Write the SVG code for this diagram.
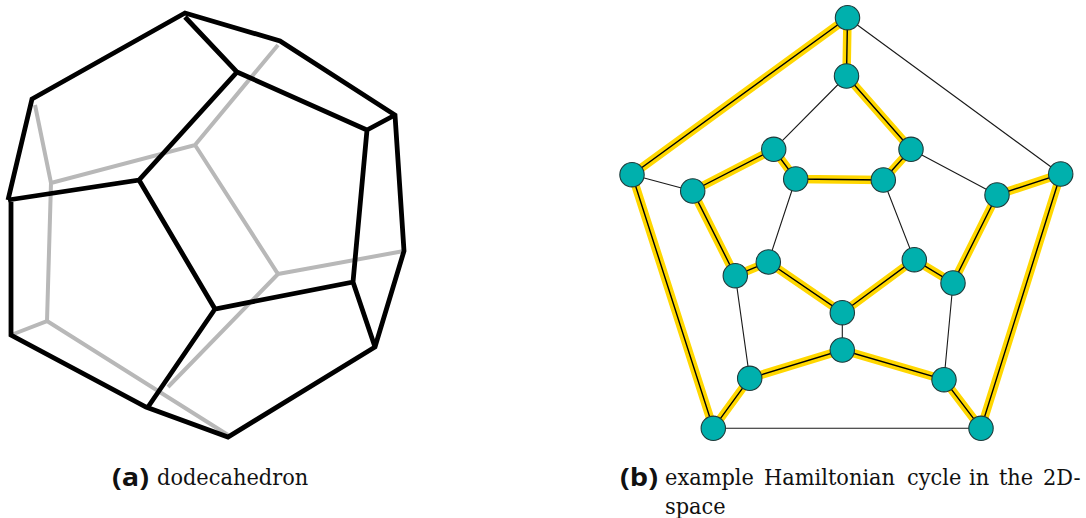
<svg xmlns="http://www.w3.org/2000/svg" width="1086" height="518" viewBox="0 0 1086 518">
<style>
.bk{fill:none;stroke:#000;stroke-width:4.8;stroke-linejoin:miter}
.gr{fill:none;stroke:#b8b8b8;stroke-width:4}
.hl{stroke:#ffd700;stroke-width:8.5;fill:none}
.ed{stroke:#1a1a1a;stroke-width:1.1;fill:none}
.ce{stroke:#000;stroke-width:1.4;fill:none}
.n{fill:#00b0ad;stroke:#1f3a3a;stroke-width:1.1}
.b{font-family:"Open Sans","Noto Sans",sans-serif;font-weight:700;font-size:25px;fill:#111}
.t{font-family:"DejaVu Serif",serif;font-size:22.5px;fill:#111}
</style>
<g id="dodecahedron">
<path class="gr" d="M35 105L51 183L195 145L278 274L404 251M195 145L278 45M51 183L47 321L11 335M47 321L228 435M278 274L168 387"/>
<path class="bk" d="M8 200L32 99L185 13L280 41L395 115L404 251L375 347L228 437L146 407L11 335L11 202"/>
<path class="bk" d="M185 17L237 72L139 180L8 200M139 180L215 309L353 282L367 130L237 72M367 130L395 115M353 282L375 347M215 309L148 407"/>
</g>
<g id="connectors">
<path class="hl" d="M847.5 17.7L632 174.7L713.3 428.3L749.7 378.3L842.3 350L944 379.7L981 428.3L1060.7 174L997 195L953 283L914.3 259.7L842.3 312.7L768.3 262L735.3 275.7L692.7 191L773.7 149.3L795.7 179L883.3 180L911 149.3L846.5 76Z"/>
<path class="ce" d="M847.5 17.7L632 174.7L713.3 428.3L749.7 378.3L842.3 350L944 379.7L981 428.3L1060.7 174L997 195L953 283L914.3 259.7L842.3 312.7L768.3 262L735.3 275.7L692.7 191L773.7 149.3L795.7 179L883.3 180L911 149.3L846.5 76Z"/>
<path class="ed" d="M847.5 17.7L1060.7 174M846.5 76L773.7 149.3M632 174.7L692.7 191M795.7 179L768.3 262M883.3 180L914.3 259.7M911 149.3L997 195M735.3 275.7L749.7 378.3M953 283L944 379.7M842.3 312.7L842.3 350M713.3 428.3L981 428.3"/>
</g>
<g id="n1"><circle class="n" cx="847.5" cy="17.7" r="12.2"/></g>
<g id="n2"><circle class="n" cx="846.5" cy="76" r="12.2"/></g>
<g id="n3"><circle class="n" cx="632" cy="174.7" r="12.2"/></g>
<g id="n4"><circle class="n" cx="692.7" cy="191" r="12.2"/></g>
<g id="n5"><circle class="n" cx="773.7" cy="149.3" r="12.2"/></g>
<g id="n6"><circle class="n" cx="795.7" cy="179" r="12.2"/></g>
<g id="n7"><circle class="n" cx="883.3" cy="180" r="12.2"/></g>
<g id="n8"><circle class="n" cx="911" cy="149.3" r="12.2"/></g>
<g id="n9"><circle class="n" cx="997" cy="195" r="12.2"/></g>
<g id="n10"><circle class="n" cx="1060.7" cy="174" r="12.2"/></g>
<g id="n11"><circle class="n" cx="735.3" cy="275.7" r="12.2"/></g>
<g id="n12"><circle class="n" cx="768.3" cy="262" r="12.2"/></g>
<g id="n13"><circle class="n" cx="842.3" cy="312.7" r="12.2"/></g>
<g id="n14"><circle class="n" cx="914.3" cy="259.7" r="12.2"/></g>
<g id="n15"><circle class="n" cx="953" cy="283" r="12.2"/></g>
<g id="n16"><circle class="n" cx="842.3" cy="350" r="12.2"/></g>
<g id="n17"><circle class="n" cx="749.7" cy="378.3" r="12.2"/></g>
<g id="n18"><circle class="n" cx="944" cy="379.7" r="12.2"/></g>
<g id="n19"><circle class="n" cx="713.3" cy="428.3" r="12.2"/></g>
<g id="n20"><circle class="n" cx="981" cy="428.3" r="12.2"/></g>
<g id="captions">
<text class="b" x="112" y="486" textLength="37" lengthAdjust="spacingAndGlyphs">(a)</text>
<text class="t" transform="translate(157 485) scale(.93 1)">dodecahedron</text>
<text class="b" x="620" y="486" textLength="38" lengthAdjust="spacingAndGlyphs">(b)</text>
<text class="t" transform="translate(665 485) scale(.93 1)"><tspan x="0">example </tspan><tspan x="106.5">Hamiltonian </tspan><tspan x="260.2">cycle </tspan><tspan x="326.9">in </tspan><tspan x="359.1">the </tspan><tspan x="406.5">2D-</tspan></text>
<text class="t" transform="translate(665 514) scale(.93 1)">space</text>
</g>
</svg>
